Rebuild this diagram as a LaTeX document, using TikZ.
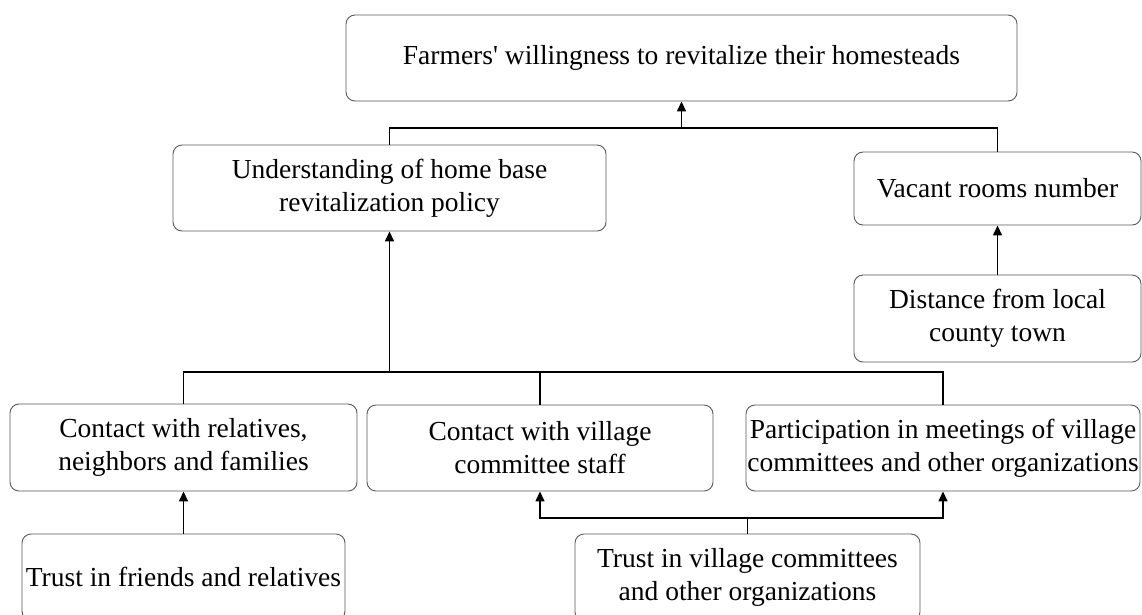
\documentclass[tikz,border=0pt]{standalone}
\usepackage{fontspec}
\setmainfont{Liberation Serif}
\usetikzlibrary{arrows.meta}
\tikzset{
  box/.style={draw=black!65, line width=0.9pt, rounded corners=9pt, align=center,
    inner sep=0pt, font=\fontsize{27.5}{33}\selectfont},
  conn/.style={draw=black, line width=1.5pt},
  arr/.style={conn, -{Triangle[length=10pt,width=9pt]}}
}
\begin{document}
\begin{tikzpicture}[x=1pt,y=-1pt]
\useasboundingbox (0,0) rectangle (1142,614);
\node[box, minimum width=671pt, minimum height=86pt] (top) at (681.5,58) {Farmers\textquotesingle{} willingness to revitalize their homesteads};
\node[box, minimum width=433pt, minimum height=86pt] (und) at (389.5,188) {Understanding of home base\\revitalization policy};
\node[box, minimum width=287pt, minimum height=73pt] (vac) at (997.5,188.5) {Vacant rooms number};
\node[box, minimum width=287pt, minimum height=87pt] (dist) at (997.5,318.5) {Distance from local\\county town};
\node[box, minimum width=347pt, minimum height=87pt] (cr) at (183.5,447.5) {Contact with relatives,\\neighbors and families};
\node[box, minimum width=346pt, minimum height=86pt] (cv) at (540,448) {Contact with village\\committee staff};
\node[box, minimum width=394pt, minimum height=86pt] (pa) at (943,448) {Participation in meetings of village\\committees and other organizations};
\node[box, minimum width=323pt, minimum height=86pt] (tf) at (183.5,577) {Trust in friends and relatives};
\node[box, minimum width=345pt, minimum height=87pt] (tv) at (747.5,577.5) {Trust in village committees\\and other organizations};
\coordinate (j1) at (681.5,128);
\coordinate (j2) at (389.5,372);
\coordinate (j3) at (747.5,518);
\draw[conn] (und.north) -- (und.north |- j1) -- (vac.north |- j1) -- (vac.north);
\draw[arr] (j1) -- (top.south);
\draw[arr] (dist.north) -- (vac.south);
\draw[arr] (j2) -- (und.south);
\draw[conn] (cr.north) -- (cr.north |- j2) -- (pa.north |- j2) -- (pa.north);
\draw[conn] (cv.north) -- (cv.north |- j2);
\draw[arr] (tf.north) -- (cr.south);
\draw[conn] (tv.north) -- (j3);
\draw[arr] (j3) -| (cv.south);
\draw[arr] (j3) -| (pa.south);
\end{tikzpicture}
\end{document}
